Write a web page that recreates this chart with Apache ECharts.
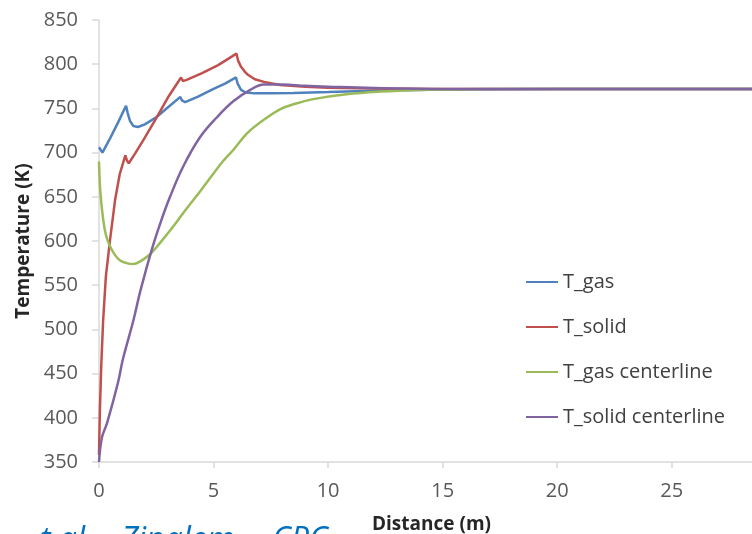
<!DOCTYPE html>
<html lang="en">
<head>
    <meta charset="utf-8">
    <title>Temperature vs Distance</title>
    <script src="https://cdn.jsdelivr.net/npm/echarts@6/dist/echarts.min.js"></script>
    <style>
        html, body { margin: 0; padding: 0; background: #fff; }
        #chart { width: 752px; height: 534px; }
    </style>
</head>
<body>
<div id="chart"></div>
<script>
// values
var seriesNames = ['T_gas', 'T_solid', 'T_gas centerline', 'T_solid centerline'];
var xTicks = [0, 5, 10, 15, 20, 25];

var gasDist = [0, 0.15, 0.5, 0.85, 1.18, 1.25, 1.35, 1.5, 1.7, 2.0, 2.5, 3.0, 3.55, 3.62, 3.76, 4.3, 5.0, 5.5, 5.98, 6.05, 6.2, 6.4, 6.8, 7.5, 8.5, 10, 12, 15, 20, 30];
var gasTemp = [706, 700, 717, 735, 753, 745, 736, 730, 729, 732, 740, 751, 763, 759, 757, 763, 772, 778, 785, 778, 771, 768, 767, 767, 767.5, 768.5, 770, 771.5, 772, 772];

var solidDist = [0, 0.04, 0.1, 0.18, 0.3, 0.48, 0.7, 0.9, 1.15, 1.22, 1.3, 1.6, 2.0, 2.5, 3.0, 3.58, 3.66, 3.8, 4.5, 5.2, 6.0, 6.07, 6.2, 6.35, 6.5, 6.8, 7.2, 7.9, 9, 10, 12, 15, 30];
var solidTemp = [358, 410, 460, 510, 560, 601, 646, 675, 697, 691, 688, 700, 717, 739, 762, 785, 781, 782, 790, 799, 812, 804, 797, 792, 788, 783, 780, 776.5, 774.5, 773.5, 772.5, 772, 772];

var gasCenterDist = [0, 0.06, 0.17, 0.3, 0.48, 0.7, 0.92, 1.2, 1.5, 1.8, 2.23, 2.7, 3.23, 3.8, 4.41, 5.4, 5.86, 6.47, 7.03, 7.9, 8.6, 9.35, 10.8, 12.3, 14, 16, 18, 30];
var gasCenterTemp = [690, 655, 627, 607, 594, 584, 578, 575, 574, 577, 585, 599, 616, 636, 656, 690, 703, 722, 734, 749, 755.5, 760.5, 766, 769, 770.8, 771.7, 772, 772];

var solidCenterDist = [0, 0.13, 0.35, 0.83, 1.05, 1.5, 1.8, 2.3, 2.7, 3.1, 3.67, 4.4, 5.15, 5.86, 6.6, 7.2, 8.0, 9, 10, 12, 15, 30];
var solidCenterTemp = [350, 378, 394, 440, 467, 510, 543, 590, 622, 650, 684, 717, 740, 758, 771, 777, 777, 775.5, 774.5, 773, 772, 772];

var colors = ['#4f81bd', '#c0504d', '#9bbb59', '#8064a2'];
var fontFamily = '"Open Sans", "DejaVu Sans", sans-serif';

function pairs(xs, ys) {
    var out = [];
    for (var i = 0; i < xs.length; i++) out.push([xs[i], ys[i]]);
    return out;
}

function captionText(text, left) {
    return {
        type: 'text',
        left: left,
        top: 525,
        style: {
            text: text,
            fontFamily: fontFamily,
            fontSize: 32,
            fontStyle: 'italic',
            fill: '#0070c0'
        }
    };
}

var chart = echarts.init(document.getElementById('chart'), null, {renderer: 'canvas'});
chart.setOption({
    backgroundColor: '#fff',
    animation: false,
    color: colors,
    grid: {
        left: 99,
        top: 20,
        right: 0,
        bottom: 72,
        containLabel: false,
        outerBoundsMode: 'none'
    },
    legend: {
        data: seriesNames,
        orient: 'vertical',
        left: 526,
        top: 272,
        padding: 0,
        itemWidth: 32,
        itemHeight: 2,
        itemGap: 25,
        icon: 'rect',
        textStyle: {
            fontFamily: fontFamily,
            fontSize: 20,
            color: '#404040'
        }
    },
    xAxis: {
        type: 'value',
        min: 0,
        max: 28.5,
        interval: 5,
        name: 'Distance (m)',
        nameLocation: 'middle',
        nameGap: 53,
        nameTextStyle: {
            fontFamily: fontFamily,
            fontSize: 19,
            fontWeight: 'bold',
            color: '#262626',
            padding: [0, 0, 0, 12]
        },
        axisLine: {lineStyle: {color: '#d9d9d9', width: 1.5}},
        axisTick: {show: true, length: 6, lineStyle: {color: '#d9d9d9', width: 1.5}},
        axisLabel: {
            fontFamily: fontFamily,
            fontSize: 20,
            color: '#595959',
            margin: 19,
            showMaxLabel: false,
            formatter: function (v) {
                return xTicks.indexOf(v) >= 0 ? String(v) : '';
            }
        },
        splitLine: {show: false}
    },
    yAxis: {
        type: 'value',
        min: 350,
        max: 850,
        interval: 50,
        name: 'Temperature (K)',
        nameLocation: 'middle',
        nameGap: 64,
        nameTextStyle: {
            fontFamily: fontFamily,
            fontSize: 19,
            fontWeight: 'bold',
            color: '#262626'
        },
        axisLine: {show: true, lineStyle: {color: '#d9d9d9', width: 1.5}},
        axisTick: {show: true, length: 7, lineStyle: {color: '#d9d9d9', width: 1.5}},
        axisLabel: {
            fontFamily: fontFamily,
            fontSize: 20,
            color: '#595959',
            margin: 21
        },
        splitLine: {show: false}
    },
    graphic: [
        captionText('t al.', 40),
        captionText('Zinalem', 121),
        captionText('CPC', 272)
    ],
    series: [
        {
            name: seriesNames[0],
            type: 'line',
            symbol: 'none',
            lineStyle: {width: 2.5},
            data: pairs(gasDist, gasTemp)
        },
        {
            name: seriesNames[1],
            type: 'line',
            symbol: 'none',
            lineStyle: {width: 2.5},
            data: pairs(solidDist, solidTemp)
        },
        {
            name: seriesNames[2],
            type: 'line',
            symbol: 'none',
            smooth: 0.4,
            lineStyle: {width: 2.5},
            data: pairs(gasCenterDist, gasCenterTemp)
        },
        {
            name: seriesNames[3],
            type: 'line',
            symbol: 'none',
            smooth: 0.4,
            lineStyle: {width: 2.5},
            data: pairs(solidCenterDist, solidCenterTemp)
        }
    ]
});
</script>
</body>
</html>
